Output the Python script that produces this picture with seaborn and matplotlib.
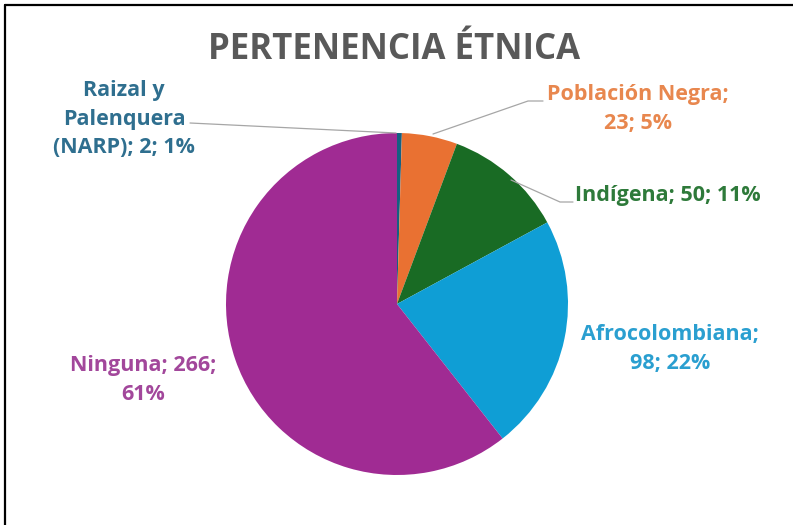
import matplotlib
matplotlib.use("Agg")
import matplotlib.pyplot as plt
import seaborn as sns
from matplotlib.lines import Line2D

sns.set_theme(style="white")
plt.rcParams['font.family'] = ['Open Sans', 'DejaVu Sans']

# ---- data ----
categories = ["Raizal y\nPalenquera\n(NARP)", "Población Negra", "Indígena", "Afrocolombiana", "Ninguna"]
values = [2, 23, 50, 98, 266]
percents = ["1%", "5%", "11%", "22%", "61%"]
title = "PERTENENCIA ÉTNICA"

slice_colors = ["#156082", "#E97132", "#196B24", "#0F9ED5", "#A02B93"]
label_colors = ["#2F6F8F", "#E8874E", "#2E7A3A", "#2A9FD0", "#A2479B"]

W, H = 793, 525
fig = plt.figure(figsize=(W / 100, H / 100), dpi=100)
ax = fig.add_axes([0, 0, 1, 1])

def Y(y):  # top-origin pixel to data
    return H - y

cx, cy, r = 397, Y(304), 171
ax.pie(values, colors=slice_colors, startangle=90, counterclock=False,
       center=(cx, cy), radius=r, frame=True,
       wedgeprops=dict(linewidth=0))
ax.set_xlim(0, W)
ax.set_ylim(0, H)
ax.set_aspect("auto")
ax.axis("off")

# title
ax.text(394, Y(50), title, ha="center", va="center", fontsize=25,
        color="#595959", family=["Open Sans", "DejaVu Sans"], fontweight="bold")

# labels
lab_texts = [
    "Raizal y\nPalenquera\n(NARP); %d; %s" % (values[0], percents[0]),
    "%s;\n%d; %s" % (categories[1], values[1], percents[1]),
    "%s; %d; %s" % (categories[2], values[2], percents[2]),
    "%s;\n%d; %s" % (categories[3], values[3], percents[3]),
    "%s; %d;\n%s" % (categories[4], values[4], percents[4]),
]
lab_pos = [(124, 119), (638, 109), (668, 195), (670, 349), (143, 380)]
for t, (x, y), c in zip(lab_texts, lab_pos, label_colors):
    ax.text(x, Y(y), t, ha="center", va="center", fontsize=15.5, fontweight="bold",
            color=c, linespacing=1.45)

# leader lines
lc = "#A6A6A6"
ax.add_line(Line2D([190, 396], [Y(123), Y(133)], color=lc, lw=0.9))
ax.add_line(Line2D([543, 528, 433], [Y(101), Y(101), Y(134)], color=lc, lw=0.9))
ax.add_line(Line2D([573, 560, 511], [Y(202), Y(202), Y(180)], color=lc, lw=0.9))

# frame lines (top and left)
ax.add_line(Line2D([5, W], [Y(5), Y(5)], color="black", lw=1.6))
ax.add_line(Line2D([5, 5], [Y(5), 0], color="black", lw=1.6))

fig.savefig("out.png", dpi=100, facecolor="white")
